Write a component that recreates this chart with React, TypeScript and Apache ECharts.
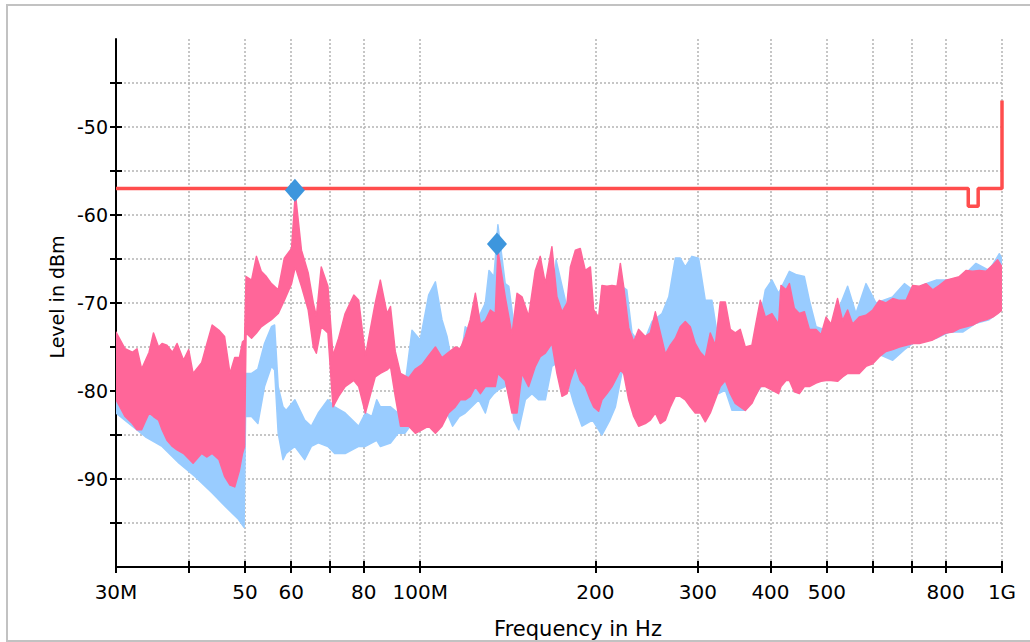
import React, { useEffect, useRef } from 'react';
import * as echarts from 'echarts';

// ---------- axis ticks / labels ----------
const xTickFreqs = [30, 40, 50, 60, 70, 80, 100, 200, 300, 400, 500, 600, 700, 800, 1000];
const xLabelFreqs = [30, 50, 60, 80, 100, 200, 300, 400, 500, 800, 1000];
const xLabelTexts = ['30M', '50', '60', '80', '100M', '200', '300', '400', '500', '800', '1G'];
const yTickValues = [-95, -90, -85, -80, -75, -70, -65, -60, -55, -50, -45];
const yLabelValues = [-90, -80, -70, -60, -50];

// ---------- limit line ----------
const limitFreq = [30, 875, 875, 910, 910, 1000, 1000];
const limitLevel = [-57, -57, -59, -59, -57, -57, -47];

// ---------- markers ----------
const markerFreq = [60.9, 135.5];
const markerLevel = [-57.2, -63.3];

// ---------- pink trace (peak envelope, MHz / dBm) ----------
const pinkFreq = [
  30.0, 31.1, 32.0, 32.6, 33.2, 34.2, 34.8, 35.5, 36.0, 36.7, 37.5, 38.2, 39.2, 40.0, 40.7, 42.1, 43.0, 43.9, 45.1, 46.1,
  47.1, 48.0, 48.9, 49.5, 49.9, 50.2, 51.3, 52.3, 53.3, 54.4, 55.5, 57.0, 58.4, 60.1, 61.0, 62.5, 64.2, 65.5, 66.3, 67.6,
  69.4, 70.8, 72.4, 74.3, 76.9, 78.4, 80.5, 83.7, 85.4, 87.7, 88.9, 90.6, 92.5, 95.6, 98.1, 100.7, 103.4, 106.2, 109.0, 111.9,
  114.9, 117.2, 119.5, 121.9, 124.4, 126.9, 129.4, 132.0, 134.6, 136.0, 140.0, 143.8, 146.7, 149.6, 153.6, 157.7, 160.8, 164.1, 168.4, 171.8,
  175.3, 178.8, 181.2, 184.8, 188.4, 192.2, 196.1, 198.7, 202.6, 205.3, 209.4, 213.6, 217.9, 220.8, 223.7, 228.2, 232.8, 237.4, 243.7, 248.6,
  253.6, 258.7, 263.9, 269.1, 274.5, 279.9, 285.5, 291.2, 297.0, 303.0, 309.0, 315.2, 321.5, 327.9, 334.5, 341.2, 348.0, 354.9, 362.0, 371.7,
  376.6, 384.2, 391.9, 402.3, 413.0, 417.0, 425.4, 431.1, 439.6, 448.4, 457.4, 466.6, 479.1, 488.7, 498.4, 508.3, 521.6, 532.1, 542.8, 553.7,
  568.4, 583.7, 599.5, 615.4, 631.8, 648.8, 666.1, 684.1, 702.4, 721.1, 740.4, 760.2, 780.4, 801.3, 822.7, 844.6, 867.2, 890.3, 914.0, 938.5,
  963.8, 982.9, 1000,
];
const pinkHi = [
  -73.3, -75.2, -75.6, -75.2, -77.5, -75.6, -73.4, -75.0, -74.6, -74.8, -75.6, -74.6, -76.5, -75.3, -78.0, -76.8, -74.6, -72.5, -73.1, -73.8,
  -78.0, -76.2, -76.2, -74.4, -74.2, -67.0, -67.4, -64.7, -66.4, -67.0, -67.8, -68.5, -64.9, -63.8, -57.5, -64.0, -66.6, -70.0, -71.5, -65.9,
  -68.1, -76.0, -74.0, -71.2, -69.1, -69.7, -76.0, -70.0, -67.4, -71.2, -70.4, -75.5, -78.0, -78.5, -77.5, -77.0, -76.0, -75.0, -76.2, -75.6,
  -75.0, -75.2, -73.8, -71.9, -68.9, -72.4, -72.0, -70.8, -71.2, -64.0, -69.3, -73.6, -68.9, -69.3, -71.5, -66.3, -64.7, -67.8, -63.6, -69.3,
  -71.0, -70.0, -65.9, -64.0, -63.8, -66.3, -65.9, -70.8, -71.6, -68.0, -68.1, -68.0, -68.1, -65.5, -68.1, -72.8, -74.4, -73.0, -73.8, -73.4,
  -71.0, -73.4, -75.8, -74.8, -74.0, -72.7, -72.1, -72.7, -74.6, -75.6, -76.2, -73.4, -74.8, -69.9, -69.9, -73.0, -73.4, -73.0, -75.0, -74.8,
  -72.7, -69.7, -71.6, -71.2, -72.4, -68.0, -68.5, -67.8, -70.6, -71.2, -71.0, -73.0, -73.0, -73.6, -71.6, -72.4, -69.5, -72.0, -70.8, -72.4,
  -71.6, -71.4, -70.8, -69.7, -70.0, -69.5, -69.7, -69.7, -68.0, -68.1, -67.8, -68.5, -68.0, -67.4, -67.2, -67.0, -66.3, -66.4, -66.3, -66.4,
  -65.7, -65.1, -65.9,
];
const pinkLo = [
  -81.0, -82.9, -83.7, -84.4, -84.4, -82.5, -82.9, -83.3, -84.4, -85.6, -86.3, -86.7, -87.1, -87.7, -88.2, -87.1, -87.5, -87.1, -87.8, -89.7,
  -90.7, -90.9, -89.0, -87.1, -86.3, -73.4, -74.0, -73.4, -72.7, -72.3, -71.9, -71.2, -69.7, -67.8, -65.9, -68.1, -70.8, -75.0, -75.7, -72.7,
  -73.4, -81.8, -80.6, -79.5, -78.8, -79.5, -82.5, -78.4, -78.0, -77.6, -77.2, -80.6, -84.0, -84.0, -84.8, -84.4, -84.0, -84.8, -84.0, -82.5,
  -81.8, -81.0, -81.0, -80.6, -79.5, -80.3, -79.5, -79.5, -79.5, -78.0, -78.8, -82.5, -82.5, -78.0, -79.5, -77.2, -76.1, -75.7, -74.6, -78.0,
  -80.6, -80.3, -78.8, -77.2, -78.8, -79.5, -81.0, -81.8, -82.3, -81.0, -80.3, -79.5, -78.4, -77.6, -78.0, -81.0, -82.9, -84.0, -83.7, -83.3,
  -82.5, -83.7, -83.3, -81.8, -80.6, -80.6, -81.0, -81.8, -82.5, -82.5, -83.5, -82.5, -81.0, -79.5, -78.8, -80.3, -81.4, -81.8, -82.2, -81.4,
  -80.6, -79.5, -79.5, -79.9, -80.3, -79.5, -78.8, -78.8, -80.1, -80.3, -79.5, -79.5, -79.1, -78.9, -78.8, -78.8, -78.9, -78.4, -78.0, -78.0,
  -78.0, -77.2, -76.9, -76.1, -75.5, -75.3, -75.0, -74.8, -74.6, -74.6, -74.4, -74.2, -73.8, -73.4, -73.3, -72.9, -72.7, -72.5, -72.1, -71.9,
  -71.6, -71.2, -70.8,
];

// ---------- blue trace (peak envelope, MHz / dBm) ----------
const blueFreq = [
  30.0, 32.0, 33.7, 36.0, 38.5, 41.0, 43.9, 46.2, 48.6, 49.8, 50.1, 51.3, 52.6, 54.0, 55.5, 56.2, 57.0, 58.1, 58.8, 60.9,
  63.3, 65.0, 66.8, 69.4, 71.3, 74.3, 78.4, 80.5, 82.6, 84.2, 85.4, 88.9, 91.6, 94.1, 96.8, 100.0, 103.4, 106.2, 109.0, 111.2,
  113.7, 116.7, 119.5, 122.6, 126.1, 129.4, 131.3, 133.9, 136.0, 140.0, 142.0, 144.8, 147.7, 151.6, 155.6, 159.7, 164.1, 168.4, 171.2, 177.6,
  183.6, 189.7, 197.8, 205.3, 211.8, 216.5, 222.1, 226.5, 231.2, 240.5, 250.3, 260.4, 267.5, 274.5, 279.9, 285.5, 293.1, 301.0, 309.0, 317.3,
  325.8, 334.5, 343.5, 352.6, 362.0, 371.7, 381.7, 391.9, 402.3, 413.0, 431.1, 443.7, 457.4, 466.6, 479.1, 498.4, 515.0, 542.8, 561.0, 583.7,
  607.4, 648.8, 679.6, 702.4, 740.4, 770.3, 811.9, 855.8, 902.2, 950.1, 989.6, 1000,
];
const blueHi = [
  -79.5, -80.5, -81.0, -82.0, -83.0, -84.0, -85.0, -86.0, -87.0, -87.0, -78.0, -78.0, -77.5, -74.6, -72.7, -72.5, -79.5, -81.8, -82.2, -81.0,
  -83.3, -84.0, -82.5, -81.0, -81.8, -82.5, -84.0, -82.5, -82.9, -81.0, -81.8, -81.8, -82.5, -79.5, -73.1, -74.2, -69.1, -67.6, -71.9, -73.8,
  -77.2, -77.6, -72.7, -73.4, -71.6, -70.0, -66.3, -67.0, -61.1, -67.8, -68.1, -72.3, -72.7, -74.6, -73.8, -71.6, -73.4, -73.4, -65.1, -69.7,
  -72.7, -74.6, -72.3, -72.7, -72.3, -71.9, -68.1, -68.5, -73.4, -75.0, -72.1, -71.2, -69.3, -64.9, -64.9, -65.9, -64.7, -64.9, -69.7, -69.7,
  -74.6, -76.5, -75.7, -76.1, -75.0, -76.5, -72.7, -68.5, -67.4, -68.9, -66.4, -66.8, -67.0, -69.7, -72.7, -73.1, -71.9, -68.1, -71.2, -67.8,
  -70.0, -69.3, -67.8, -68.5, -67.8, -67.4, -67.4, -67.0, -65.5, -66.3, -64.4, -65.0,
];
const blueLo = [
  -82.5, -84.0, -85.2, -86.3, -88.2, -89.7, -91.6, -93.1, -94.5, -95.5, -82.9, -82.9, -83.7, -79.5, -77.2, -77.6, -84.8, -87.8, -87.1, -86.3,
  -87.8, -86.3, -85.9, -86.3, -87.1, -87.1, -86.3, -86.3, -85.9, -85.6, -86.3, -85.9, -84.8, -84.8, -83.7, -82.9, -81.8, -82.5, -82.5, -82.5,
  -84.0, -82.9, -82.5, -81.8, -81.0, -82.5, -81.0, -80.3, -79.9, -79.5, -77.2, -83.3, -84.4, -81.0, -80.3, -81.0, -81.0, -77.2, -76.9, -78.0,
  -81.4, -84.0, -83.3, -85.0, -83.3, -81.8, -78.0, -77.2, -79.5, -81.0, -79.5, -81.0, -79.5, -78.0, -77.2, -76.5, -76.1, -76.1, -76.5, -77.2,
  -80.3, -79.9, -82.2, -82.2, -82.2, -81.0, -79.9, -78.8, -78.8, -79.5, -78.4, -78.8, -78.0, -77.2, -78.4, -77.2, -78.0, -77.6, -77.2, -76.5,
  -75.7, -76.5, -75.3, -74.6, -74.2, -74.0, -73.3, -73.3, -72.3, -71.9, -71.0, -70.5,
];

const FONT = 'DejaVu Sans';
const lg = (f: number) => Math.log10(f);

function labelFor(v: number): string {
  let best = 0;
  let bestD = Infinity;
  xLabelFreqs.forEach((f, i) => {
    const d = Math.abs(lg(f) - v);
    if (d < bestD) {
      bestD = d;
      best = i;
    }
  });
  return xLabelTexts[best];
}

function bandSeries(name: string, freqs: number[], hi: number[], lo: number[], color: string, z: number) {
  return {
    type: 'custom',
    name,
    z,
    clip: true,
    silent: true,
    data: [[lg(freqs[0]), hi[0]]],
    encode: { x: 0, y: 1 },
    renderItem: (_params: any, api: any) => {
      const pts: number[][] = [];
      for (let i = 0; i < freqs.length; i++) pts.push(api.coord([lg(freqs[i]), hi[i]]));
      for (let i = freqs.length - 1; i >= 0; i--) pts.push(api.coord([lg(freqs[i]), lo[i]]));
      return {
        type: 'polygon',
        shape: { points: pts },
        style: { fill: color, stroke: color, lineWidth: 1.5, lineJoin: 'round' },
      };
    },
  };
}

const tickStyle = { color: '#000', width: 2 };
const gridLine = { show: true, lineStyle: { color: '#b4b4b4', width: 1.5, type: [2, 2] } };

const option: any = {
  animation: false,
  backgroundColor: '#fff',
  grid: { left: 116, right: 28, top: 39, bottom: 75 },
  xAxis: [
    {
      type: 'value',
      min: lg(30),
      max: 3,
      position: 'bottom',
      axisLine: { show: true, onZero: false, lineStyle: { color: '#000', width: 2 } },
      axisTick: { show: true, length: 6, customValues: xTickFreqs.map(lg), lineStyle: tickStyle },
      axisLabel: {
        customValues: xLabelFreqs.map(lg),
        formatter: (v: number) => labelFor(v),
        margin: 15,
        fontSize: 20,
        color: '#000',
        fontFamily: FONT,
      },
      splitLine: gridLine,
    },
    {
      type: 'value',
      min: lg(30),
      max: 3,
      position: 'bottom',
      axisLine: { show: false, onZero: false },
      axisTick: { show: true, inside: true, length: 6, customValues: xTickFreqs.map(lg), lineStyle: tickStyle },
      axisLabel: { show: false },
      splitLine: { show: false },
    },
  ],
  yAxis: [
    {
      type: 'value',
      min: -100,
      max: -40,
      position: 'left',
      axisLine: { show: true, onZero: false, lineStyle: { color: '#000', width: 2 } },
      axisTick: { show: true, length: 6, customValues: yTickValues, lineStyle: tickStyle },
      axisLabel: {
        customValues: yLabelValues,
        formatter: (v: number) => String(v),
        margin: 8,
        fontSize: 19,
        color: '#000',
        fontFamily: FONT,
      },
      splitLine: gridLine,
    },
    {
      type: 'value',
      min: -100,
      max: -40,
      position: 'left',
      axisLine: { show: false, onZero: false },
      axisTick: { show: true, inside: true, length: 6, customValues: yTickValues, lineStyle: tickStyle },
      axisLabel: { show: false },
      splitLine: { show: false },
    },
  ],
  graphic: [
    {
      type: 'rect',
      shape: { x: 7, y: 5, width: 1040, height: 636 },
      style: { fill: 'none', stroke: '#c2c2c2', lineWidth: 2 },
      silent: true,
    },
    {
      type: 'text',
      x: 578,
      y: 629,
      style: { text: 'Frequency in Hz', fontSize: 21, fontFamily: FONT, fill: '#000', textAlign: 'center', textVerticalAlign: 'middle' },
    },
    {
      type: 'text',
      x: 57,
      y: 297,
      rotation: Math.PI / 2,
      style: { text: 'Level in dBm', fontSize: 19, fontFamily: FONT, fill: '#000', textAlign: 'center', textVerticalAlign: 'middle' },
    },
  ],
  series: [
    bandSeries('Trace 2', blueFreq, blueHi, blueLo, '#99ccff', 2),
    bandSeries('Trace 1', pinkFreq, pinkHi, pinkLo, '#ff6699', 3),
    {
      type: 'line',
      name: 'Limit',
      z: 4,
      clip: false,
      symbol: 'none',
      data: limitFreq.map((f, i) => [lg(f), limitLevel[i]]),
      lineStyle: { color: '#ff4d4d', width: 3.5 },
    },
    {
      type: 'scatter',
      name: 'Markers',
      z: 5,
      symbol: 'diamond',
      symbolSize: [20, 23],
      itemStyle: { color: '#3d96dd', opacity: 1 },
      data: markerFreq.map((f, i) => [lg(f), markerLevel[i]]),
    },
  ],
};

export default function App() {
  const ref = useRef<HTMLDivElement>(null);
  useEffect(() => {
    const chart = echarts.init(ref.current as HTMLDivElement, null, { renderer: 'svg' });
    chart.setOption(option);
    return () => chart.dispose();
  }, []);
  return (
    <div
      ref={ref}
      style={{ position: 'fixed', left: 0, top: 0, width: 1030, height: 642, background: '#fff' }}
    />
  );
}
